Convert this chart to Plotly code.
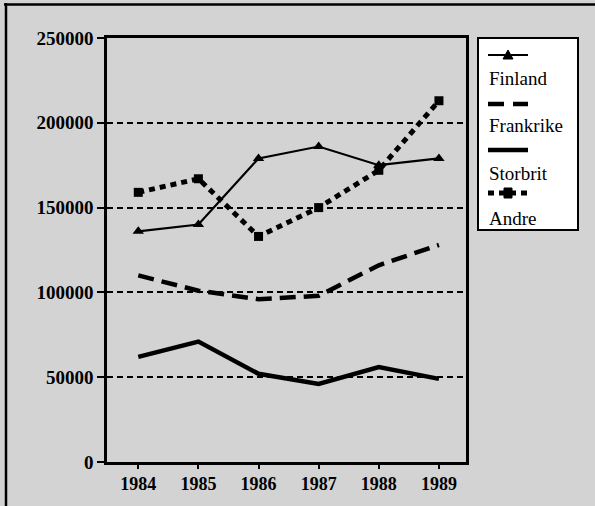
import plotly.graph_objects as go

years = [1984, 1985, 1986, 1987, 1988, 1989]
finland = [136000, 140000, 179000, 186000, 175000, 179000]
frankrike = [110000, 101000, 96000, 98000, 116000, 128000]
storbrit = [62000, 71000, 52000, 46000, 56000, 49000]
andre = [159000, 167000, 133000, 150000, 172000, 213000]
series_names = ["Finland", "Frankrike", "Storbrit", "Andre"]
y_ticks = [0, 50000, 100000, 150000, 200000, 250000]

W, H = 595, 506
L, R, T, B = 107, 129, 38, 44
PW, PH = W - L - R, H - T - B
BG = "#d3d3d3"
FONT = "Times New Roman, Times, Liberation Serif, serif"


def px(x):
    return (x - L) / PW


def py(y):
    return (H - B - y) / PH


fig = go.Figure()
fig.add_trace(go.Scatter(x=years, y=finland, name=series_names[0], mode="lines+markers",
                         line=dict(color="black", width=2.2),
                         marker=dict(symbol="triangle-up", size=10, color="black")))
fig.add_trace(go.Scatter(x=years, y=frankrike, name=series_names[1], mode="lines",
                         line=dict(color="black", width=4.5, dash="16px,8px")))
fig.add_trace(go.Scatter(x=years, y=storbrit, name=series_names[2], mode="lines",
                         line=dict(color="black", width=4.5)))
fig.add_trace(go.Scatter(x=years, y=andre, name=series_names[3], mode="lines+markers",
                         line=dict(color="black", width=5, dash="6px,5px"),
                         marker=dict(symbol="square", size=9, color="black")))

shapes = []
# outer frame (top and left)
shapes.append(dict(type="line", xref="paper", yref="paper", x0=px(4), x1=px(W + 5),
                   y0=py(4.5), y1=py(4.5), line=dict(color="black", width=2.5)))
shapes.append(dict(type="line", xref="paper", yref="paper", x0=px(6), x1=px(6),
                   y0=py(3), y1=py(H + 5), line=dict(color="black", width=2.5)))
# legend box
shapes.append(dict(type="rect", xref="paper", yref="paper", x0=px(478), x1=px(578),
                   y0=py(230), y1=py(38), fillcolor="white", line=dict(color="black", width=2)))
lx0, lx1 = 488, 528
ys_line = [55, 104, 150, 193]
ys_text = [78, 125, 173, 218]
cx = (lx0 + lx1) / 2
# Finland sample
shapes.append(dict(type="line", xref="paper", yref="paper", x0=px(lx0), x1=px(lx1),
                   y0=py(ys_line[0]), y1=py(ys_line[0]), line=dict(color="black", width=2.2)))
shapes.append(dict(type="path", xref="paper", yref="paper",
                   path=f"M {px(cx-5)} {py(ys_line[0]+4)} L {px(cx+5)} {py(ys_line[0]+4)} L {px(cx)} {py(ys_line[0]-5)} Z",
                   fillcolor="black", line=dict(color="black", width=1)))
# Frankrike sample
shapes.append(dict(type="line", xref="paper", yref="paper", x0=px(lx0), x1=px(lx1),
                   y0=py(ys_line[1]), y1=py(ys_line[1]),
                   line=dict(color="black", width=4.5, dash="16px,9px")))
# Storbrit sample
shapes.append(dict(type="line", xref="paper", yref="paper", x0=px(lx0), x1=px(lx1),
                   y0=py(ys_line[2]), y1=py(ys_line[2]), line=dict(color="black", width=4.5)))
# Andre sample
shapes.append(dict(type="line", xref="paper", yref="paper", x0=px(lx0), x1=px(lx1),
                   y0=py(ys_line[3]), y1=py(ys_line[3]),
                   line=dict(color="black", width=5, dash="6px,5px")))
shapes.append(dict(type="rect", xref="paper", yref="paper", x0=px(cx-4), x1=px(cx+4),
                   y0=py(ys_line[3]+5), y1=py(ys_line[3]-5), fillcolor="black",
                   line=dict(color="black", width=1)))

annotations = []
for name, yt in zip(series_names, ys_text):
    annotations.append(dict(text=name, xref="paper", yref="paper", x=px(487), y=py(yt),
                            xanchor="left", yanchor="middle", showarrow=False,
                            font=dict(family=FONT, size=19, color="black")))

fig.update_layout(
    width=W, height=H,
    margin=dict(l=L, r=R, t=T, b=B, pad=0),
    paper_bgcolor=BG, plot_bgcolor=BG,
    showlegend=False,
    shapes=shapes, annotations=annotations,
    font=dict(family=FONT, color="black"),
)
fig.update_xaxes(range=[1983.48, 1989.45], tickvals=years, ticktext=[str(y) for y in years],
                 showgrid=False, zeroline=False, showline=True, linecolor="black", linewidth=2.5,
                 mirror=True, ticks="outside", ticklen=4, tickwidth=1.5, tickcolor="black",
                 tickfont=dict(family=FONT, size=18, color="black", weight="bold"))
fig.update_yaxes(range=[0, 250000], tickvals=y_ticks, ticktext=[str(v) for v in y_ticks],
                 showgrid=True, gridcolor="black", gridwidth=2, griddash="6px,4px",
                 zeroline=False, showline=True, linecolor="black", linewidth=2.5,
                 mirror=True, ticks="outside", ticklen=7, tickwidth=2, tickcolor="black",
                 tickfont=dict(family=FONT, size=19, color="black", weight="bold"))

fig.write_html("out.html", config={"displayModeBar": False},
               post_script="document.body.style.margin='0';document.body.style.padding='0';document.body.style.overflow='hidden';")
